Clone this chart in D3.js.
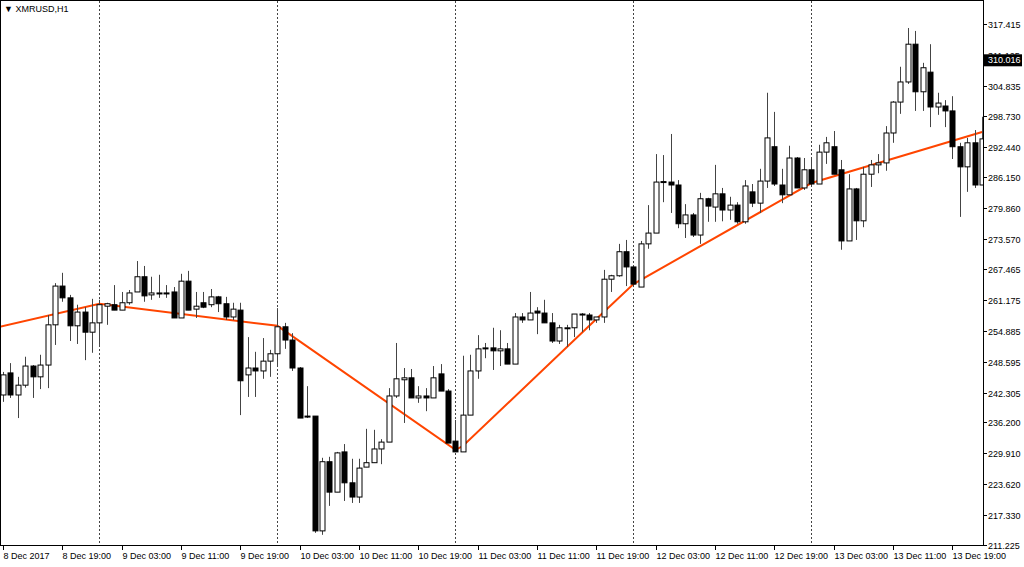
<!DOCTYPE html>
<html><head><meta charset="utf-8">
<script src="https://cdn.jsdelivr.net/npm/d3@7"></script>
<style>body{margin:0;background:#fff}svg{display:block}text{font-family:"Liberation Sans",Arial,sans-serif;font-size:9px}</style>
</head><body><svg id="c" width="1024" height="567"></svg>
<script>
// OHLC [open, high, low, close] for XMRUSD H1, 8 Dec 2017 11:00 .. 13 Dec 2017 23:00
const ohlc = [
[241.8,246.5,240.4,245.9],[246.3,248.3,241.2,241.8],[241.8,245.5,237.1,243.8],[243.8,249.6,243.3,247.7],
[247.7,247.9,241.2,245.5],[245.5,250.0,243.0,247.9],[247.9,258.1,243.2,256.1],[256.1,264.6,252.0,264.0],
[264.0,266.7,260.8,261.6],[261.6,262.2,252.8,255.9],[255.9,260.2,252.2,258.7],[258.7,259.7,248.9,254.6],
[254.6,261.4,250.4,256.5],[256.5,261.2,252.0,260.2],[259.9,260.6,256.1,260.4],[260.2,264.2,259.1,259.1],
[259.1,262.8,259.1,260.6],[260.6,263.2,260.2,262.6],[262.8,269.1,262.8,265.9],[265.9,268.1,260.8,262.0],
[262.2,265.9,261.2,262.6],[262.5,266.3,261.6,262.6],[262.6,264.2,261.6,262.5],[262.8,263.8,257.5,257.5],
[257.5,266.5,257.5,265.0],[265.0,267.1,259.1,259.1],[259.3,262.8,257.5,259.9],[260.6,262.8,259.5,259.7],
[260.2,263.4,259.7,261.8],[261.8,262.0,258.7,260.4],[260.4,261.8,257.1,257.7],[257.7,260.6,257.1,259.3],
[259.1,260.6,237.7,244.7],[245.9,253.6,241.4,247.3],[247.3,250.6,241.4,246.7],[246.7,253.4,245.1,248.7],
[248.7,251.0,245.5,250.2],[250.2,259.5,247.7,255.7],[255.7,256.5,251.2,253.0],[253.0,254.4,246.7,247.3],
[247.3,247.5,237.1,237.1],[237.3,243.6,237.1,237.5],[237.5,237.5,213.7,214.1],[214.1,229.0,213.3,228.2],
[228.2,229.2,219.2,222.0],[222.0,230.2,222.0,230.0],[230.2,231.8,220.2,223.9],[223.9,228.8,219.8,221.0],
[221.0,228.8,219.8,226.9],[227.1,234.9,227.1,228.0],[228.0,234.7,228.0,230.8],[230.8,232.8,227.7,232.2],
[232.2,243.2,232.2,241.6],[241.6,252.4,241.2,245.1],[244.9,247.3,236.1,245.3],[245.3,247.1,241.2,241.2],
[241.2,243.6,240.2,241.6],[241.6,243.2,238.5,241.2],[241.2,247.7,241.2,245.3],[246.1,248.1,242.6,242.6],
[242.6,243.0,232.0,232.0],[232.4,236.7,230.2,230.2],[230.2,249.8,230.2,237.7],[237.7,250.0,237.7,246.7],
[246.7,254.0,245.1,251.2],[251.2,252.4,249.3,251.4],[251.4,255.5,246.9,250.8],[250.8,255.0,247.7,251.2],
[251.2,252.4,248.1,248.1],[248.1,258.5,248.1,257.7],[257.7,258.5,256.5,257.1],[257.1,262.8,257.1,258.5],
[258.9,259.7,254.2,258.5],[258.5,261.2,256.5,256.5],[256.5,258.5,252.4,252.8],[252.8,256.1,252.2,255.5],
[255.4,256.1,251.6,255.5],[255.5,258.3,253.6,258.3],[258.1,258.5,254.6,258.3],[258.1,258.5,255.0,257.1],
[257.1,257.7,256.5,257.7],[257.7,267.3,256.5,265.4],[265.4,266.3,262.8,266.1],[266.1,272.6,265.9,271.0],
[271.0,273.4,264.0,267.9],[267.9,268.1,263.8,264.4],[263.8,273.2,263.8,272.6],[272.6,280.5,271.6,274.8],
[274.8,290.9,274.8,285.2],[285.2,290.7,281.1,285.3],[285.2,295.0,278.9,284.6],[284.6,285.6,275.8,276.7],
[276.7,280.7,273.8,278.5],[278.5,278.9,274.0,274.4],[274.4,283.0,272.6,281.8],[281.8,282.0,277.1,280.3],
[280.1,288.7,277.1,282.8],[282.8,284.0,277.2,279.5],[279.5,282.2,277.5,280.5],[280.5,281.1,276.7,277.1],
[277.1,285.6,276.7,284.4],[283.2,284.8,280.1,280.9],[280.9,287.9,278.9,285.4],[285.4,303.4,284.0,294.2],
[292.4,299.5,284.4,284.8],[284.6,287.9,280.9,282.6],[282.6,292.6,282.6,290.1],[290.1,290.3,284.0,284.0],
[284.0,290.1,283.6,287.7],[287.7,290.1,284.2,284.8],[284.8,292.8,284.8,291.3],[291.3,294.4,288.9,293.2],
[292.4,295.6,286.8,286.8],[287.7,289.7,271.4,273.2],[273.2,286.8,273.2,283.8],[283.8,284.0,273.4,277.3],
[277.3,288.3,276.0,286.8],[286.8,289.7,284.2,288.7],[288.7,290.9,287.0,289.1],[289.1,296.6,287.5,295.2],
[295.2,301.7,293.2,301.5],[301.5,308.7,299.1,305.6],[305.6,316.6,305.2,313.3],[313.3,316.0,299.7,303.6],
[303.6,309.5,299.7,308.5],[307.6,313.3,296.4,300.5],[300.5,303.4,298.9,301.3],[300.7,301.9,296.4,299.7],
[299.7,302.7,289.9,292.4],[292.4,293.2,278.1,288.3],[288.3,294.2,283.2,293.2],[293.2,295.8,284.0,284.6],
[284.6,298.5,284.6,294.0]
];
const maIdx  = [0,13,37,39,61,62,80,85,109,132];
const maVals = [255.7,260.4,255.9,253.8,230.6,231.4,257.3,264.4,285.0,295.4];
const priceTicks = [317.415,311.125,304.835,298.730,292.440,286.150,279.860,273.570,267.465,261.175,254.885,248.595,242.305,236.200,229.910,223.620,217.330,211.225];
const timeLabels = ["8 Dec 2017","8 Dec 19:00","9 Dec 03:00","9 Dec 11:00","9 Dec 19:00","10 Dec 03:00","10 Dec 11:00","10 Dec 19:00","11 Dec 03:00","11 Dec 11:00","11 Dec 19:00","12 Dec 03:00","12 Dec 11:00","12 Dec 19:00","13 Dec 03:00","13 Dec 11:00","13 Dec 19:00"];
const dayStarts = [13,37,61,85,109];
const lastPrice = 310.016;

const svg = d3.select("#c");
const R = 983, B = 545;
const x = d3.scaleLinear().domain([0,132]).range([3,3+132*7.417]);
const y = d3.scaleLinear().domain([211.225,317.415]).range([545,24]);

svg.append("rect").attr("x",0.5).attr("y",0.5).attr("width",R).attr("height",B).attr("fill","#fff").attr("stroke","#000");
svg.append("clipPath").attr("id","pc").append("rect").attr("x",1).attr("y",1).attr("width",R-1).attr("height",B-1);

const g = svg.append("g").attr("clip-path","url(#pc)");
g.selectAll(".d").data(dayStarts).join("line")
 .attr("x1",d=>Math.round(x(d))+0.5).attr("x2",d=>Math.round(x(d))+0.5).attr("y1",1).attr("y2",B)
 .attr("stroke","#444").attr("stroke-dasharray","2,2");

const line = d3.line().x(d=>x(d[0])).y(d=>y(d[1]));
g.append("path").attr("d",line([[-0.4,maVals[0]]].concat(maIdx.map((d,i)=>[d,maVals[i]]).slice(1)))).attr("fill","none").attr("stroke","#ff4500").attr("stroke-width",2);

const c = g.selectAll(".k").data(ohlc).join("g");
c.append("line").attr("x1",(d,i)=>Math.round(x(i))+0.5).attr("x2",(d,i)=>Math.round(x(i))+0.5)
 .attr("y1",d=>y(d[1])).attr("y2",d=>y(d[2])).attr("stroke","#444");
c.append("rect").attr("x",(d,i)=>Math.round(x(i))-2).attr("width",5)
 .attr("y",d=>y(Math.max(d[0],d[3]))).attr("height",d=>Math.max(1,Math.abs(y(d[0])-y(d[3]))))
 .attr("fill",d=>d[3]>=d[0]?"#fff":"#000").attr("stroke","#000").attr("stroke-width",1);

const ax = svg.append("g");
priceTicks.forEach(p=>{
  const yy=Math.round(y(p))+0.5;
  ax.append("line").attr("x1",R).attr("x2",R+4).attr("y1",yy).attr("y2",yy).attr("stroke","#000");
  ax.append("text").attr("x",988).attr("y",yy+3).text(p.toFixed(3));
});
ax.append("rect").attr("x",984).attr("y",y(lastPrice)-6).attr("width",38).attr("height",12).attr("fill","#000");
ax.append("text").attr("x",988).attr("y",y(lastPrice)+3).attr("fill","#fff").text(lastPrice.toFixed(3));
timeLabels.forEach((t,i)=>{
  const xx=Math.round(x(i*8))+0.5;
  ax.append("line").attr("x1",xx).attr("x2",xx).attr("y1",B).attr("y2",B+5).attr("stroke","#000");
  ax.append("text").attr("x",xx).attr("y",559).text(t);
});
svg.append("text").attr("x",4).attr("y",12).text("▼ XMRUSD,H1");
</script></body></html>
